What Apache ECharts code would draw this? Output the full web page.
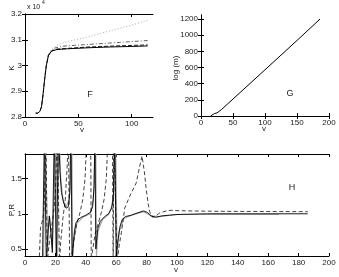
<!DOCTYPE html>
<html><head><meta charset="utf-8">
<script src="https://cdn.jsdelivr.net/npm/echarts@6/dist/echarts.min.js"></script>
<style>html,body{margin:0;padding:0;background:#fff}#c{width:339px;height:277px}</style>
</head><body><div id="c"></div>
<script>
// ---- Panel F: K (x 10^4) vs v ----
const fSolid = [[10,2.815],[12,2.815],[14,2.822],[15.5,2.84],[17,2.89],[18.5,2.95],[20,3.0],[22,3.04],[25,3.056],[30,3.062],[40,3.065],[60,3.069],[80,3.072],[100,3.074],[115,3.076]];
const fDashed = [[10,2.815],[12,2.815],[14,2.822],[15.5,2.84],[17,2.89],[18.5,2.95],[20,3.0],[22,3.04],[25,3.057],[30,3.064],[45,3.068],[60,3.072],[85,3.076],[115,3.08]];
const fDashDot = [[22,3.04],[25,3.058],[28,3.068],[35,3.075],[60,3.082],[90,3.09],[115,3.097]];
const fDotted = [[20,3.0],[22,3.04],[25,3.065],[30,3.08],[40,3.093],[60,3.112],[80,3.135],[100,3.157],[115,3.175]];
const fXTicks = [0,50,100];
// ---- Panel G: log(m) vs v ----
const gLine = [[15,0],[18,15],[21,30],[25,38],[28,48],[32,80],[100,572],[150,935],[186,1200]];
const gYTicks = [0,200,400,600,800,1000,1200];
// ---- Panel H: P,R vs v ----
const hSolid = [[11.5,0.3],[12.8,2.2],[13.5,2.2],[14,0.3],[15,0.7],[16,0.97],[17,0.75],[18,0.45],[19.3,2.2],[20.2,2.2],[20.6,0.3],[22,2.2],[23,1.6],[24,1.3],[25.5,1.15],[27,1.08],[28.5,1.1],[29.5,1.3],[30.2,2.2],[30.6,2.2],[31,0.3],[31.5,0.5],[32.5,0.75],[33.5,0.87],[35,0.92],[37,0.95],[40,0.98],[43,1.02],[44.5,1.1],[45.5,1.4],[46,2.2],[46.2,2.2],[46.6,0.5],[47,0.6],[48,0.8],[49.5,0.89],[51,0.93],[53,0.97],[55,1.0],[57,1.08],[58.3,1.3],[59,2.2],[59.5,2.2],[60,0.4],[61,0.6],[62.5,0.82],[64,0.92],[66,0.96],[70,0.98],[75,1.02],[78,1.04],[80.5,1.02],[83,0.97],[86,0.95],[90,0.97],[95,0.98],[100,0.99],[120,1.0],[186,1.0]];
const hGray = [[12.2,0.3],[13.2,2.2],[14.5,2.2],[15,0.5],[15.5,0.8],[16.3,0.95],[17.2,0.7],[18,0.5],[20.5,2.2],[21,2.2],[21.3,0.3],[22.4,2.2],[23.5,1.5],[25,1.2],[27,1.1],[29,1.2],[30,1.5],[30.8,2.2],[31.3,0.3],[32,0.6],[34,0.86],[38,0.95],[43,1.0],[45,1.2],[46.5,2.2],[47,0.4],[48,0.75],[51,0.92],[55,0.99],[58,1.15],[59.5,2.2],[60.3,2.2],[60.6,0.4],[62,0.75],[65,0.93],[70,0.98],[78,1.03],[83,0.97],[88,0.96],[100,0.99],[125,0.99],[167,0.99]];
const hDashed = [[9.3,0.3],[10.2,0.8],[11.2,0.88],[12.3,1.0],[13.2,1.5],[13.8,2.2],[14.2,2.2],[14.6,0.3],[15.5,0.5],[17,0.75],[18.5,0.95],[20,1.3],[21.3,2.2],[22.3,2.2],[22.7,0.3],[23.5,0.6],[25,0.95],[26.5,1.2],[27.8,1.7],[28.5,2.2],[29,2.2],[29.4,0.3],[31,0.45],[32.5,0.68],[34,0.85],[36,1.0],[38,1.2],[39.5,1.5],[40.8,2.2],[43.2,2.2],[43.6,0.3],[44.3,0.45],[46,0.7],[48,0.85],[50,1.0],[52,1.2],[53.5,1.5],[54.8,2.2],[57.5,2.2],[58,0.3],[58.5,2.2],[59.2,2.2],[60.5,0.3],[62,0.55],[63.4,0.73],[65.6,1.08],[68.9,1.25],[73.2,1.44],[75.5,1.68],[77,1.82],[78.5,1.6],[79.8,1.34],[81,1.15],[82,1.03],[84,0.95],[86,0.97],[88.5,1.01],[92.8,1.04],[96,1.05],[100,1.045],[110,1.04],[130,1.035],[186,1.03]];
const hYTicks = [0.5,1,1.5];

const FONT = 'Liberation Sans';
const lab = {fontSize:8, color:'#222', fontFamily:FONT, margin:3, formatter:(v)=>String(+v.toFixed(4))};
const line = {show:true, lineStyle:{color:'#000', width:1}};
const tick = (vals)=>({show:true, inside:true, length:3, lineStyle:{color:'#000'}, customValues:vals});
function xAx(g, min, max, vals, interval){
  return [
    {type:'value', gridIndex:g, position:'bottom', min, max, interval, axisLine:line, axisTick:tick(vals), axisLabel:Object.assign({}, lab, vals?{customValues:vals}:{}), splitLine:{show:false}},
    {type:'value', gridIndex:g, position:'top', min, max, interval, axisLine:line, axisTick:tick(vals), axisLabel:{show:false}, splitLine:{show:false}}
  ];
}
function yAx(g, min, max, vals, interval){
  return [
    {type:'value', gridIndex:g, position:'left', min, max, interval, axisLine:line, axisTick:tick(vals), axisLabel:Object.assign({}, lab, vals?{customValues:vals}:{}), splitLine:{show:false}},
    {type:'value', gridIndex:g, position:'right', min, max, interval, axisLine:line, axisTick:tick(vals), axisLabel:{show:false}, splitLine:{show:false}}
  ];
}
const xAxis = [].concat(
  xAx(0, 0, 120, fXTicks, 50),
  xAx(1, 0, 200, undefined, 50),
  xAx(2, 0, 200, undefined, 20)
);
const yAxis = [].concat(
  yAx(0, 2.8, 3.2, undefined, 0.1),
  yAx(1, 0, 1250, gYTicks, 200),
  yAx(2, 0.4, 1.85, hYTicks, 0.5)
);
function ser(data, xi, yi, color, type, width){
  return {type:'line', data, xAxisIndex:xi, yAxisIndex:yi, showSymbol:false, symbol:'none', clip:true, silent:true,
    lineStyle:{color, width:width||1, type:type||'solid'}};
}
const series = [
  ser(fDotted, 0, 0, '#aaa', [1,2]),
  ser(fDashDot, 0, 0, '#666', [4,2,1,2]),
  ser(fDashed, 0, 0, '#222', [4,2]),
  ser(fSolid, 0, 0, '#000', 'solid'),
  ser(gLine, 2, 2, '#000', 'solid'),
  ser(hGray, 4, 4, '#aaa', 'solid', 1.2),
  ser(hDashed, 4, 4, '#111', [4,2.5], 0.8),
  ser(hSolid, 4, 4, '#000', 'solid', 0.9)
];
const txt = (x,y,t,opt)=>Object.assign({type:'text', x, y, style:Object.assign({text:t, fontSize:8, fontFamily:FONT, fill:'#222', align:'center', verticalAlign:'middle'}, opt||{})});
const graphic = [
  txt(82,130,'v'), txt(264,129,'v'), txt(176,270,'v'),
  txt(90,95,'F',{fontSize:9}), txt(290,94,'G',{fontSize:9}), txt(292,188,'H',{fontSize:9}),
  txt(27,7,'x 10',{align:'left', fontSize:7}), txt(42,3,'4',{align:'left', fontSize:5}),
  {type:'text', x:12, y:68, rotation:Math.PI/2, style:{text:'K', fontSize:8, fontFamily:FONT, fill:'#222', align:'center', verticalAlign:'middle'}},
  {type:'text', x:176, y:68, rotation:Math.PI/2, style:{text:'log (m)', fontSize:8, fontFamily:FONT, fill:'#222', align:'center', verticalAlign:'middle'}},
  {type:'text', x:12, y:210, rotation:Math.PI/2, style:{text:'P,R', fontSize:8, fontFamily:FONT, fill:'#222', align:'center', verticalAlign:'middle'}}
];
const chart = echarts.init(document.getElementById('c'), null, {renderer:'canvas'});
chart.setOption({
  animation:false,
  backgroundColor:'#fff',
  grid:[
    {left:25, top:14, width:128, height:103},
    {left:201, top:15, width:128, height:101},
    {left:25, top:154, width:304, height:102}
  ],
  xAxis, yAxis, series, graphic
});
</script></body></html>
